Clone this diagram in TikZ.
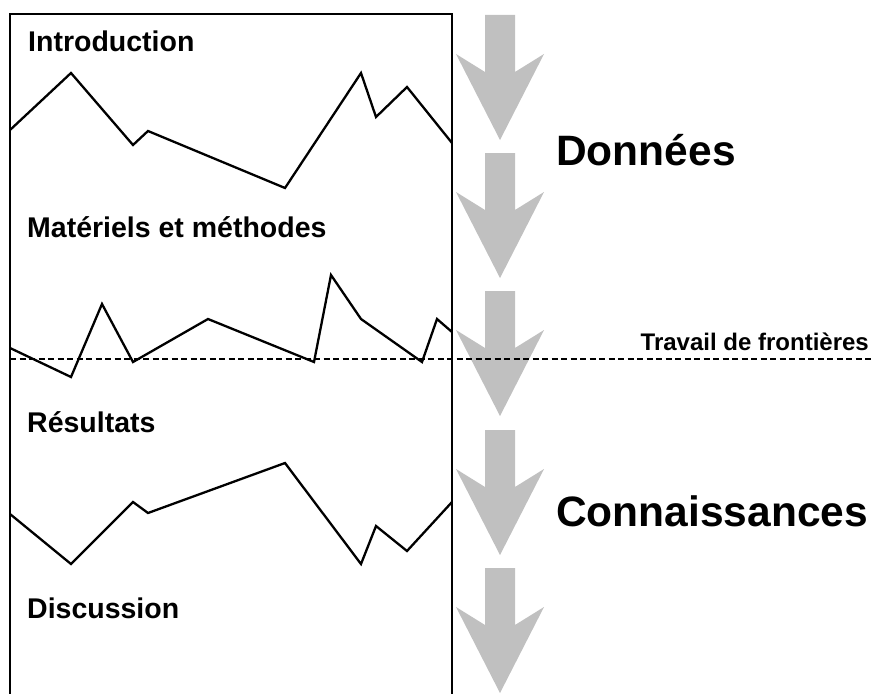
\documentclass[tikz,border=0pt]{standalone}
\usepackage{fontspec}
\setmainfont{Liberation Sans}
\definecolor{arrowgray}{RGB}{192,192,192}
\tikzset{
  heading/.style={anchor=base west, inner sep=0pt, font=\fontsize{28.5}{31}\selectfont\bfseries},
  bigword/.style={anchor=base west, inner sep=0pt, font=\fontsize{42.5}{46}\selectfont\bfseries},
  smallword/.style={anchor=base east, inner sep=0pt, font=\fontsize{24}{27}\selectfont\bfseries},
  zig/.style={line width=2.3pt, line join=miter},
  frame/.style={line width=2.3pt},
  bigarrow/.style={fill=arrowgray, draw=none}
}
\newcommand{\downarrowshape}[1]{%
  \fill[bigarrow] (485,#1) -- (515,#1) -- (515,#1+57) -- (544,#1+39) -- (500,#1+125)
    -- (456,#1+39) -- (485,#1+57) -- cycle;}
\begin{document}
\begin{tikzpicture}[x=1pt,y=-1pt]
\useasboundingbox[fill=white] (0,0) rectangle (874,693);
% frame
\coordinate (bl) at (10,700);
\coordinate (tl) at (10,14);
\coordinate (tr) at (452,14);
\coordinate (br) at (452,700);
\draw[frame] (bl) -- (tl) -- (tr) -- (br);
% arrows
\downarrowshape{15}
\downarrowshape{153}
\downarrowshape{291}
\downarrowshape{430}
\downarrowshape{568}
% zigzags
\draw[zig] (10,130) -- (71,73) -- (133,145) -- (148,131) -- (285,188) -- (361,73) -- (376,117) -- (407,87) -- (452,143);
\draw[zig] (10,348) -- (71,377) -- (102,304) -- (133,362) -- (208,319) -- (314,362) -- (331,275) -- (361,319) -- (422,362) -- (437,319) -- (452,332);
\draw[zig] (10,514) -- (71,564) -- (133,502) -- (148,513) -- (285,463) -- (361,564) -- (376,526) -- (407,551) -- (452,502);
% dashed boundary
\coordinate (dl) at (10,359);
\coordinate (dr) at (874,359);
\draw[line width=1.6pt, dash pattern=on 6pt off 3.5pt] (dl) -- (dr);
% texts
\node[heading] (intro) at (28,52) {Introduction};
\node[heading] (mat) at (27,237) {Matériels et méthodes};
\node[heading] (res) at (27,432) {Résultats};
\node[heading] (disc) at (27,618) {Discussion};
\node[bigword] (donnees) at (556,165) {Données};
\node[bigword] (conn) at (556,526) {Connaissances};
\node[smallword] (trav) at (869,350) {Travail de frontières};
\end{tikzpicture}
\end{document}
